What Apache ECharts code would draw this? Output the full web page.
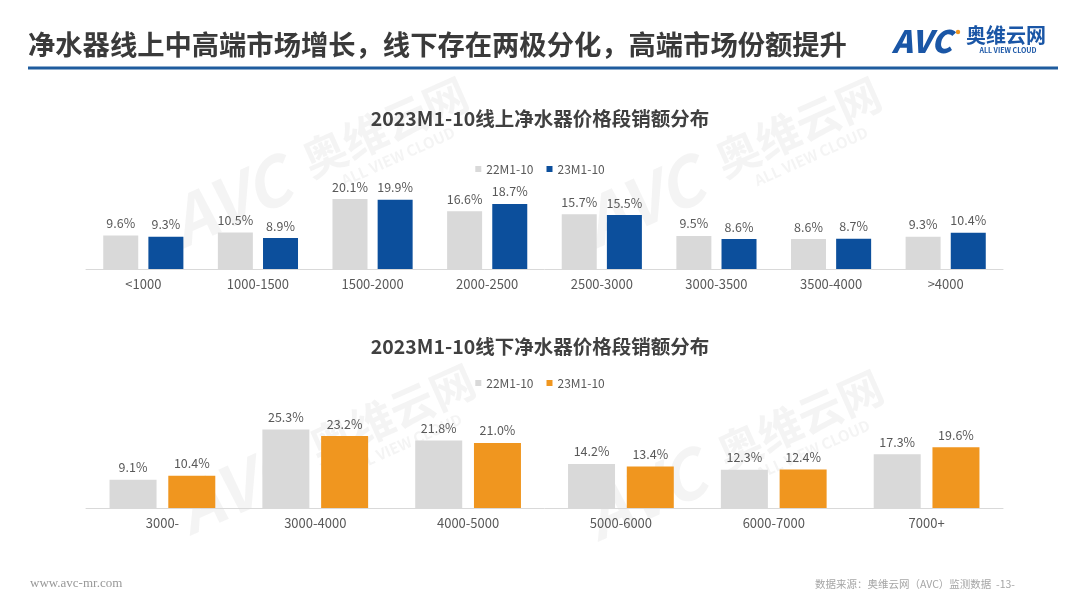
<!DOCTYPE html>
<html><head><meta charset="utf-8">
<script src="https://cdn.jsdelivr.net/npm/echarts@6/dist/echarts.min.js"></script>
<style>html,body{margin:0;padding:0;background:#fff}#c{width:1080px;height:608px}</style>
</head><body><div id="c"></div><script>
const onlineCategories = ['<1000','1000-1500','1500-2000','2000-2500','2500-3000','3000-3500','3500-4000','>4000'];
const online22 = [9.6,10.5,20.1,16.6,15.7,9.5,8.6,9.3];
const online23 = [9.3,8.9,19.9,18.7,15.5,8.6,8.7,10.4];
const offlineCategories = ['3000-','3000-4000','4000-5000','5000-6000','6000-7000','7000+'];
const offline22 = [9.1,25.3,21.8,14.2,12.3,17.3];
const offline23 = [10.4,23.2,21.0,13.4,12.4,19.6];
const seriesNames = ['22M1-10','23M1-10'];
const mainTitle = '净水器线上中高端市场增长，线下存在两极分化，高端市场份额提升';
const onlineTitle = '2023M1-10线上净水器价格段销额分布';
const offlineTitle = '2023M1-10线下净水器价格段销额分布';

const FONT = '"Noto Sans CJK SC", "Noto Sans", sans-serif';
const GRAY = '#d9d9d9', BLUE = '#0c4f9c', ORANGE = '#f0961f';
const chart = echarts.init(document.getElementById('c'));

function wm(x, y) {
  const c = 'rgba(110,110,110,0.075)';
  return {
    type: 'group', x: x, y: y, rotation: 0.42, silent: true,
    children: [
      {type:'text', x:0, y:0, style:{text:'奥维云网', fill:c, font:'bold 44px ' + FONT, textAlign:'center', textVerticalAlign:'middle'}},
      {type:'text', x:0, y:32, style:{text:'ALL VIEW CLOUD', fill:c, font:'bold 15px ' + FONT, textAlign:'center', textVerticalAlign:'middle'}},
      {type:'text', x:-172, y:4, style:{text:'AVC', fill:c, font:'italic bold 66px ' + FONT, textAlign:'center', textVerticalAlign:'middle'}}
    ]
  };
}

const labelStyle = {show:true, position:'top', distance:6, color:'#595959', fontSize:12.5, fontFamily:FONT,
  formatter: p => p.value.toFixed(1) + '%'};

chart.setOption({
  animation: false,
  backgroundColor: '#fff',
  title: [
    {text: onlineTitle, left: 'center', top: 104, textStyle:{fontSize:19.5, fontWeight:'bold', color:'#404040', fontFamily:FONT}},
    {text: offlineTitle, left: 'center', top: 332, textStyle:{fontSize:19.5, fontWeight:'bold', color:'#404040', fontFamily:FONT}}
  ],
  legend: [
    {left:'center', top:158, itemWidth:6, itemHeight:6, itemGap:13, icon:'rect',
     textStyle:{color:'#595959', fontSize:12, fontFamily:FONT},
     data:[{name:seriesNames[0], itemStyle:{color:GRAY}}, {name:seriesNames[1], itemStyle:{color:BLUE}}]},
    {left:'center', top:372, itemWidth:6, itemHeight:6, itemGap:13, icon:'rect',
     textStyle:{color:'#595959', fontSize:12, fontFamily:FONT},
     data:[{name:seriesNames[0], itemStyle:{color:GRAY}}, {name:seriesNames[1], itemStyle:{color:ORANGE}}]}
  ],
  grid: [
    {left:86, right:77, top:182, height:87},
    {left:86, right:77, top:415, height:93}
  ],
  xAxis: [
    {type:'category', gridIndex:0, data:onlineCategories,
     axisLine:{lineStyle:{color:'#d9d9d9'}}, axisTick:{show:false},
     axisLabel:{interval:0, color:'#595959', fontSize:13, fontFamily:FONT, margin:9}},
    {type:'category', gridIndex:1, data:offlineCategories,
     axisLine:{lineStyle:{color:'#d9d9d9'}}, axisTick:{show:false},
     axisLabel:{interval:0, color:'#595959', fontSize:13, fontFamily:FONT, margin:9}}
  ],
  yAxis: [
    {type:'value', gridIndex:0, min:0, max:25, show:false, splitLine:{show:false}},
    {type:'value', gridIndex:1, min:0, max:30, show:false, splitLine:{show:false}}
  ],
  series: [
    {type:'bar', name:seriesNames[0], xAxisIndex:0, yAxisIndex:0, data:online22, barWidth:35, barGap:'29%', itemStyle:{color:GRAY}, label:labelStyle},
    {type:'bar', name:seriesNames[1], xAxisIndex:0, yAxisIndex:0, data:online23, barWidth:35, barGap:'29%', itemStyle:{color:BLUE}, label:labelStyle},
    {type:'bar', name:seriesNames[0], xAxisIndex:1, yAxisIndex:1, data:offline22, barWidth:47, barGap:'25%', itemStyle:{color:GRAY}, label:labelStyle},
    {type:'bar', name:seriesNames[1], xAxisIndex:1, yAxisIndex:1, data:offline23, barWidth:47, barGap:'25%', itemStyle:{color:ORANGE}, label:labelStyle}
  ],
  graphic: [
    wm(385, 127), wm(798, 127), wm(392, 414), wm(800, 420),
    {type:'text', x:28, y:45, style:{text:mainTitle, fill:'#3a3a3a', font:'bold 27.3px ' + FONT, textVerticalAlign:'middle'}},
    {type:'rect', shape:{x:28, y:66.5, width:1030, height:3}, style:{fill:'#1f5c9e'}},
    {type:'text', x:892, y:41, style:{text:'AVC', fill:'#1a56a6', font:'italic 900 31px ' + FONT, textVerticalAlign:'middle'}},
    {type:'circle', shape:{cx:958, cy:32, r:2.2}, style:{fill:'#f0961f'}},
    {type:'text', x:1006, y:35, style:{text:'奥维云网', fill:'#1a56a6', font:'bold 20px ' + FONT, textAlign:'center', textVerticalAlign:'middle'}},
    {type:'text', x:1008, y:50, style:{text:'ALL VIEW CLOUD', fill:'#1a56a6', font:'bold 7px ' + FONT, textAlign:'center', textVerticalAlign:'middle'}},
    {type:'text', x:30, y:584, style:{text:'www.avc-mr.com', fill:'#999', font:'13px "Liberation Serif", "DejaVu Serif", serif', textVerticalAlign:'middle'}},
    {type:'text', x:1015, y:584, style:{text:'数据来源：奥维云网（AVC）监测数据  -13-', fill:'#a6a6a6', font:'10.5px ' + FONT, textAlign:'right', textVerticalAlign:'middle'}}
  ]
});
</script></body></html>
